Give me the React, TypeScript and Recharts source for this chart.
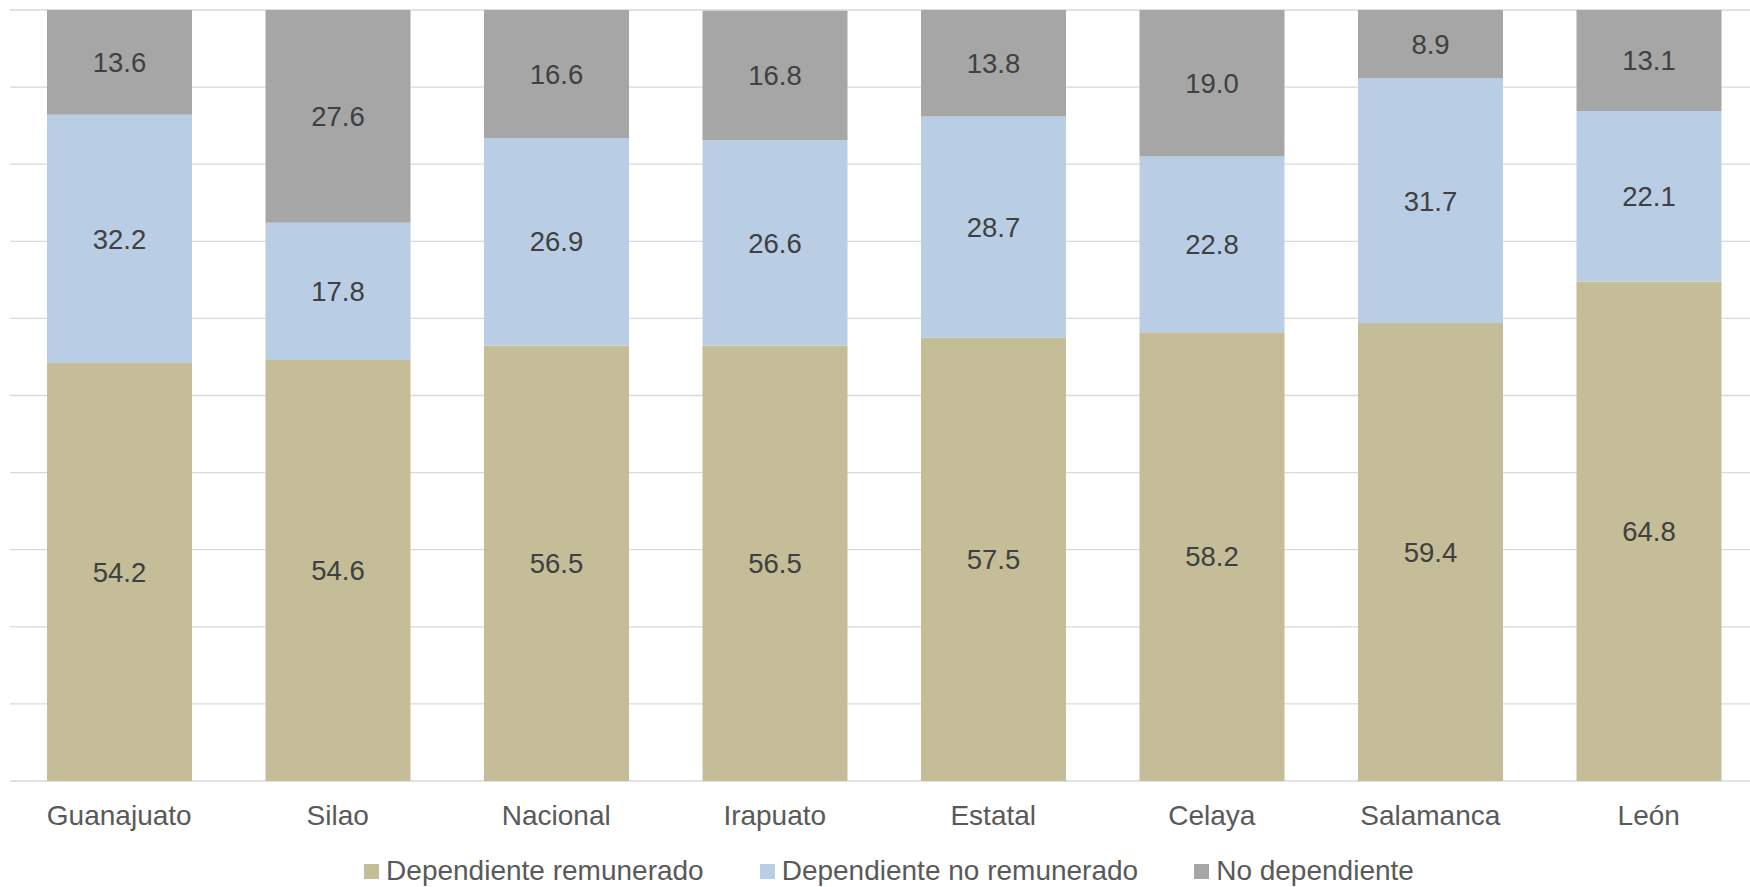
import React from 'react';
import { Bar, BarChart, CartesianGrid, LabelList, Legend, XAxis, YAxis } from 'recharts';

const categories = ['Guanajuato', 'Silao', 'Nacional', 'Irapuato', 'Estatal', 'Celaya', 'Salamanca', 'León'];
const remunerado = [54.2, 54.6, 56.5, 56.5, 57.5, 58.2, 59.4, 64.8];
const noRemunerado = [32.2, 17.8, 26.9, 26.6, 28.7, 22.8, 31.7, 22.1];
const noDependiente = [13.6, 27.6, 16.6, 16.8, 13.8, 19.0, 8.9, 13.1];
const yTicks = [0, 10, 20, 30, 40, 50, 60, 70, 80, 90, 100];

const series = [
  { key: 'remunerado', name: 'Dependiente remunerado', color: '#C4BD97' },
  { key: 'noRemunerado', name: 'Dependiente no remunerado', color: '#B9CDE5' },
  { key: 'noDependiente', name: 'No dependiente', color: '#A6A6A6' },
];

const data = categories.map((name, i) => ({
  name,
  remunerado: remunerado[i],
  noRemunerado: noRemunerado[i],
  noDependiente: noDependiente[i],
}));

const FONT = '"Liberation Sans", Arial, sans-serif';

function LegendContent() {
  return (
    <div
      style={{
        display: 'flex',
        justifyContent: 'center',
        alignItems: 'center',
        gap: 56,
        height: 32,
        paddingLeft: 10,
        fontFamily: FONT,
        fontSize: 28,
        color: '#595959',
      }}
    >
      {series.map((s) => (
        <div key={s.key} style={{ display: 'flex', alignItems: 'center' }}>
          <span style={{ width: 15, height: 15, background: s.color, marginRight: 7, display: 'inline-block' }} />
          <span>{s.name}</span>
        </div>
      ))}
    </div>
  );
}

export default function App() {
  return (
    <div
      style={{
        position: 'fixed',
        left: 0,
        top: 0,
        width: 1750,
        height: 887,
        overflow: 'hidden',
        background: '#fff',
      }}
    >
      <BarChart
        width={1760}
        height={887}
        data={data}
        margin={{ top: 10, right: 2, left: 10, bottom: 0 }}
        style={{ fontFamily: FONT }}
      >
        <CartesianGrid vertical={false} stroke="#D9D9D9" strokeWidth={1.3} />
        <YAxis hide domain={[0, 100]} ticks={yTicks} type="number" />
        <XAxis
          dataKey="name"
          axisLine={false}
          tickLine={false}
          tickSize={0}
          tickMargin={24}
          height={74}
          interval={0}
          tick={{ fontSize: 28, fill: '#595959', fontFamily: FONT }}
        />
        <Legend verticalAlign="bottom" height={32} content={<LegendContent />} />
        {series.map((s) => (
          <Bar key={s.key} dataKey={s.key} name={s.name} stackId="a" fill={s.color} barSize={145} isAnimationActive={false}>
            <LabelList
              dataKey={s.key}
              position="center"
              fill="#404040"
              fontSize={27.5}
              fontFamily={FONT}
              formatter={(v: number) => v.toFixed(1)}
            />
          </Bar>
        ))}
      </BarChart>
    </div>
  );
}
